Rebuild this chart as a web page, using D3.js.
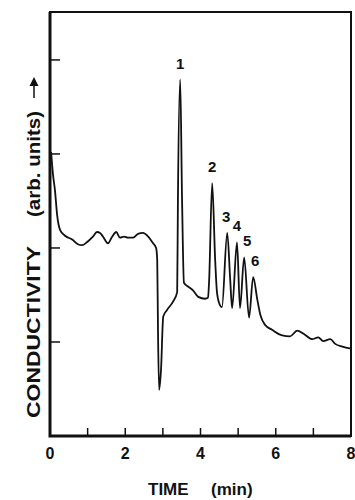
<!DOCTYPE html>
<html>
<head>
<meta charset="utf-8">
<script src="https://cdn.jsdelivr.net/npm/d3@7"></script>
<style>
  body { margin: 0; background: #fff; }
  svg { display: block; }
  text { font-family: "Liberation Sans", Arial, sans-serif; fill: #111; }
</style>
</head>
<body>
<div id="chart"></div>
<script>
// time (min)
const times = [
  0.03, 0.08, 0.13, 0.19, 0.27, 0.40, 0.59, 0.74, 0.85, 0.98,
  1.14, 1.25, 1.33, 1.41, 1.54, 1.65, 1.76, 1.86, 1.97, 2.07,
  2.21, 2.34, 2.47, 2.61, 2.74, 2.82, 2.85, 2.87, 2.90, 2.95,
  3.01, 3.11, 3.27, 3.38, 3.40, 3.46, 3.51, 3.56, 3.67, 3.80,
  3.94, 4.12, 4.20, 4.23, 4.31, 4.39, 4.44, 4.52, 4.57, 4.71,
  4.79, 4.84, 4.97, 5.05, 5.16, 5.29, 5.40, 5.51, 5.59, 5.72,
  5.90, 6.17, 6.38, 6.57, 6.73, 6.97, 7.13, 7.26, 7.45, 7.58,
  7.77, 8.00
];
// conductivity (arb. units)
const conductivity = [
  3.02, 2.78, 2.62, 2.35, 2.19, 2.13, 2.09, 2.04, 2.03, 2.06,
  2.12, 2.17, 2.16, 2.12, 2.05, 2.12, 2.17, 2.11, 2.12, 2.11,
  2.11, 2.15, 2.16, 2.12, 2.05, 2.00, 1.87, 1.13, 0.49, 0.70,
  1.27, 1.34, 1.43, 1.53, 2.51, 3.79, 2.51, 1.63, 1.59, 1.55,
  1.48, 1.46, 1.47, 1.66, 2.69, 1.87, 1.52, 1.39, 1.37, 2.16,
  1.66, 1.36, 2.06, 1.36, 1.90, 1.26, 1.69, 1.45, 1.29, 1.18,
  1.13, 1.07, 1.06, 1.12, 1.09, 1.03, 1.05, 1.01, 1.03, 0.98,
  0.95, 0.93
];
const peakNames = ["1", "2", "3", "4", "5", "6"];
const peakTimes = [3.46, 4.31, 4.71, 4.97, 5.16, 5.40];
const peakHeights = [3.79, 2.69, 2.16, 2.06, 1.90, 1.69];
const xTickLabels = [0, 2, 4, 6, 8];
const xMinorTicks = [1, 3, 5, 7];
const yTicks = [1, 2, 3, 4];

const width = 355, height = 500;
const margin = { top: 12, right: 4, bottom: 64, left: 50 };

const svg = d3.select('#chart').append('svg')
  .attr('width', width)
  .attr('height', height);

const x = d3.scaleLinear().domain([0, 8]).range([margin.left, width - margin.right]);
const y = d3.scaleLinear().domain([0, 4.51]).range([height - margin.bottom, margin.top]);

// inward ticks
svg.append('g')
  .selectAll('line')
  .data(xTickLabels.concat(xMinorTicks).filter(d => d > 0 && d < 8))
  .enter()
  .append('line')
  .attr('x1', d => x(d)).attr('x2', d => x(d))
  .attr('y1', y(0)).attr('y2', y(0) - 8)
  .attr('stroke', '#111').attr('stroke-width', 1.5);

svg.append('g')
  .selectAll('line')
  .data(yTicks)
  .enter()
  .append('line')
  .attr('x1', x(0)).attr('x2', x(0) + 10)
  .attr('y1', d => y(d)).attr('y2', d => y(d))
  .attr('stroke', '#111').attr('stroke-width', 1.5);

// frame
svg.append('rect')
  .attr('x', x(0)).attr('y', y(4.51))
  .attr('width', x(8) - x(0)).attr('height', y(0) - y(4.51))
  .attr('fill', 'none').attr('stroke', '#111').attr('stroke-width', 2);
svg.append('path')
  .attr('d', `M${x(0)},${y(4.51)}V${y(0)}H${x(8)}`)
  .attr('fill', 'none').attr('stroke', '#111').attr('stroke-width', 3);

svg.append('g')
  .selectAll('text')
  .data(xTickLabels)
  .enter()
  .append('text')
  .attr('x', d => x(d))
  .attr('y', y(0) + 23)
  .attr('text-anchor', 'middle')
  .style('font-size', '16px')
  .style('font-weight', 'bold')
  .text(d => d);

// trace
const line = d3.line()
  .x((d, i) => x(times[i]))
  .y(d => y(d))
  .curve(d3.curveMonotoneX);

svg.append('path')
  .datum(conductivity)
  .attr('d', line)
  .attr('fill', 'none')
  .attr('stroke', '#111')
  .attr('stroke-width', 1.8)
  .attr('stroke-linejoin', 'round');

// peak numbers
const labelDx = [0, 0, -1, 0, 3, 2];
svg.append('g')
  .selectAll('text')
  .data(peakNames)
  .enter()
  .append('text')
  .attr('x', (d, i) => x(peakTimes[i]) + labelDx[i])
  .attr('y', (d, i) => y(peakHeights[i]) - 11)
  .attr('text-anchor', 'middle')
  .style('font-size', '15px')
  .style('font-weight', 'bold')
  .text(d => d);

// axis titles
svg.append('text')
  .attr('x', 148).attr('y', 495)
  .style('font-size', '17px')
  .style('font-weight', 'bold')
  .text('TIME');
svg.append('text')
  .attr('x', 211).attr('y', 495)
  .style('font-size', '17px')
  .style('font-weight', 'bold')
  .text('(min)');

const yTitle = svg.append('g').attr('transform', 'translate(40,0) rotate(-90)');
yTitle.append('text')
  .attr('x', -418).attr('y', 0)
  .attr('textLength', 172)
  .attr('lengthAdjust', 'spacingAndGlyphs')
  .style('font-size', '18px')
  .style('font-weight', 'bold')
  .text('CONDUCTIVITY');
yTitle.append('text')
  .attr('x', -217).attr('y', 0)
  .attr('textLength', 106)
  .attr('lengthAdjust', 'spacingAndGlyphs')
  .style('font-size', '18px')
  .style('font-weight', 'bold')
  .text('(arb. units)');
yTitle.append('line')
  .attr('x1', -98).attr('x2', -84)
  .attr('y1', -6).attr('y2', -6)
  .attr('stroke', '#111').attr('stroke-width', 1.5);
yTitle.append('path')
  .attr('d', 'M-77,-6L-86,-10.5L-86,-1.5Z')
  .attr('fill', '#111');
</script>
</body>
</html>
